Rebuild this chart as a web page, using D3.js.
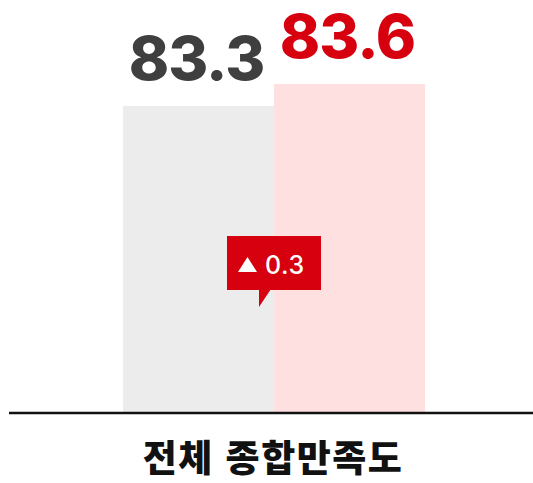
<!DOCTYPE html>
<html lang="ko">
  <head>
    <meta charset="UTF-8" />
    <title>전체 종합만족도</title>
    <script src="https://cdnjs.cloudflare.com/ajax/libs/d3/7.8.5/d3.min.js"></script>
    <style>
      body, html { margin: 0; padding: 0; background: #fff; }
      svg { display: block; }
      .value { font-family: Inter, "Open Sans", sans-serif; font-weight: 800; text-anchor: middle; }
      .cat { font-family: "Noto Sans CJK KR", sans-serif; font-weight: 900; text-anchor: middle; }
    </style>
  </head>
  <body>
    <svg width="533" height="483"></svg>
    <script>
      // data
      const series = ["prev", "curr"];
      const values = [83.3, 83.6];
      const barColors = ["#ececec", "#fee0e0"];
      const labelColors = ["#3f3f3f", "#d7000f"];
      const category = "전체 종합만족도";
      const diffLabel = "0.3";

      const svg = d3.select("svg");
      const baseY = 412;

      const x = d3.scaleBand().domain(series).range([123, 425]).padding(0);
      const y = d3.scaleLinear().domain([79.1, 83.6]).range([baseY, 84]);

      // bars
      svg.selectAll("rect.bar")
        .data(values)
        .join("rect")
        .attr("class", "bar")
        .attr("x", (d, i) => x(series[i]))
        .attr("y", (d) => y(d))
        .attr("width", x.bandwidth())
        .attr("height", (d) => baseY - y(d))
        .attr("fill", (d, i) => barColors[i]);

      // value labels
      svg.selectAll("text.value")
        .data(values)
        .join("text")
        .attr("class", "value")
        .attr("x", (d, i) => x(series[i]) + x.bandwidth() / 2 - 2)
        .attr("y", (d) => y(d) - 26)
        .attr("font-size", 61)
        .attr("letter-spacing", -1)
        .attr("fill", (d, i) => labelColors[i])
        .text((d) => d.toFixed(1));

      // baseline
      svg.append("line")
        .attr("x1", 9).attr("x2", 533)
        .attr("y1", baseY + 1).attr("y2", baseY + 1)
        .attr("stroke", "#111").attr("stroke-width", 2.5);

      // category label
      svg.append("text")
        .attr("class", "cat")
        .attr("x", 273)
        .attr("y", 472)
        .attr("font-size", 37)
        .attr("letter-spacing", 1.5)
        .attr("fill", "#111")
        .text(category);

      // difference callout
      const cx = x("curr");
      const callout = svg.append("g");
      callout.append("rect")
        .attr("x", cx - 47).attr("y", 236)
        .attr("width", 94).attr("height", 54)
        .attr("fill", "#d7000f");
      callout.append("path")
        .attr("d", `M${cx - 15},289 L${cx - 3},289 L${cx - 15},307 Z`)
        .attr("fill", "#d7000f");
      callout.append("path")
        .attr("d", `M${cx - 36},272 L${cx - 17},272 L${cx - 26.5},257 Z`)
        .attr("fill", "#fff");
      callout.append("text")
        .attr("x", cx - 9)
        .attr("y", 274)
        .attr("font-family", "Inter, sans-serif")
        .attr("font-weight", 500)
        .attr("font-size", 25)
        .attr("letter-spacing", 0.5)
        .attr("fill", "#fff")
        .text(diffLabel);
    </script>
  </body>
</html>
